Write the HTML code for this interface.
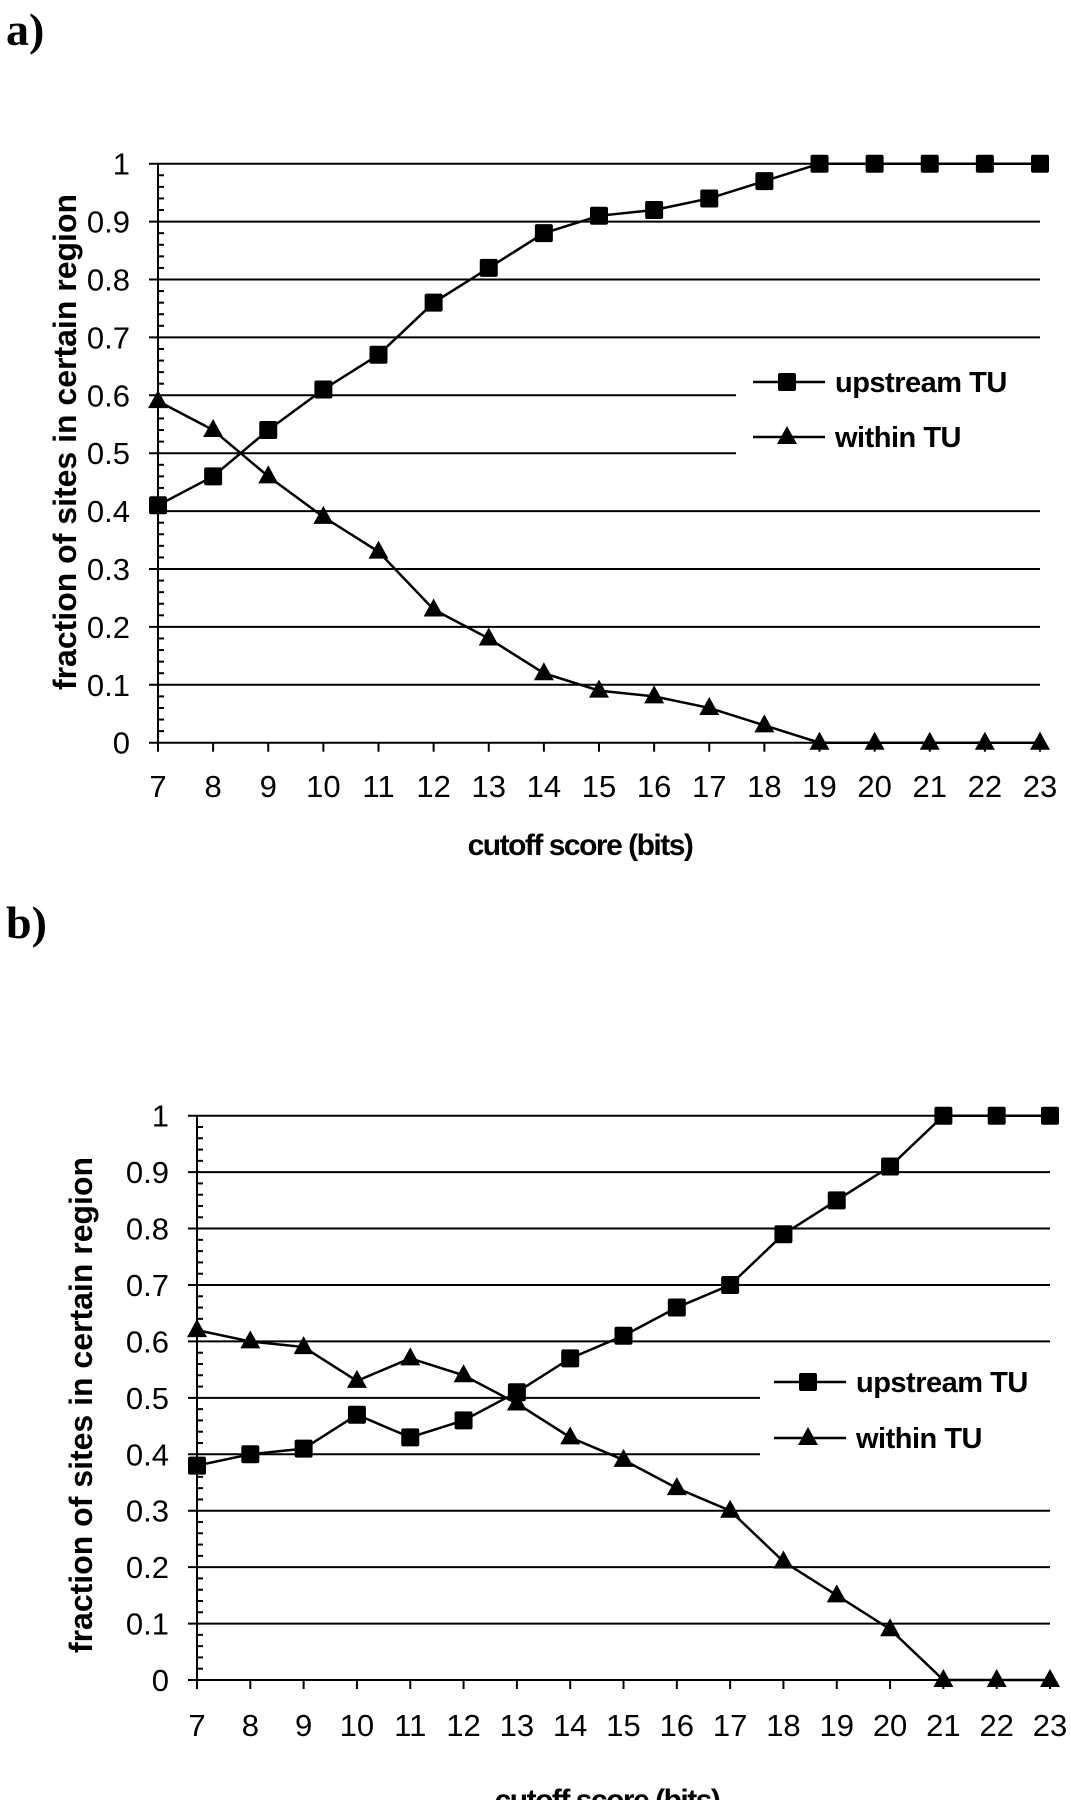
<!DOCTYPE html>
<html><head><meta charset="utf-8"><style>
html,body{margin:0;padding:0;background:#fff;width:1071px;height:1800px;overflow:hidden}
svg{display:block}
</style></head><body>
<svg id="fig" width="1071" height="1800" xmlns="http://www.w3.org/2000/svg" font-family="Liberation Sans, sans-serif"></svg>
<script>
const categories = [7,8,9,10,11,12,13,14,15,16,17,18,19,20,21,22,23];
const yTicks = [0,0.1,0.2,0.3,0.4,0.5,0.6,0.7,0.8,0.9,1];
const yTickLabels = ["0","0.1","0.2","0.3","0.4","0.5","0.6","0.7","0.8","0.9","1"];
const aUpstream = [0.41,0.46,0.54,0.61,0.67,0.76,0.82,0.88,0.91,0.92,0.94,0.97,1,1,1,1,1];
const aWithin = [0.59,0.54,0.46,0.39,0.33,0.23,0.18,0.12,0.09,0.08,0.06,0.03,0,0,0,0,0];
const bUpstream = [0.38,0.40,0.41,0.47,0.43,0.46,0.51,0.57,0.61,0.66,0.70,0.79,0.85,0.91,1,1,1];
const bWithin = [0.62,0.60,0.59,0.53,0.57,0.54,0.49,0.43,0.39,0.34,0.30,0.21,0.15,0.09,0,0,0];
const seriesNames = ["upstream TU","within TU"];

const svg = document.getElementById('fig');
const NS = 'http://www.w3.org/2000/svg';
function mk(tag, attrs, parent){
  const e = document.createElementNS(NS, tag);
  for (const k in attrs) e.setAttribute(k, attrs[k]);
  (parent||svg).appendChild(e);
  return e;
}

function drawChart(cfg){
  const g = mk('g', {});
  
  
  const xS = v => cfg.x0 + (v - categories[0]) * (cfg.x1 - cfg.x0) / (categories[categories.length-1] - categories[0]);
  const yS = v => cfg.y0 + (cfg.y1 - cfg.y0) * v;
  const pl = mk('text', {x:6, y:cfg.labelY, 'font-family':'Liberation Serif, serif', 'font-weight':'bold', 'font-size':46}, g);
  pl.textContent = cfg.label;
  
  
  yTicks.forEach((t,i) => {
    const short = cfg.shortTicks.includes(t);
    const ln = mk('line', {x1:cfg.x0-9, x2: short ? cfg.legendCut : cfg.x1, y1:yS(t), y2:yS(t), stroke:'#000', 'stroke-width':2}, g);
    
    
    const lb = mk('text', {x:cfg.x0-28, y:yS(t)+11, 'text-anchor':'end', 'font-size':31}, g);
    lb.textContent = yTickLabels[i];
    
    
  });
  for (let k=0;k<50;k++){
    if (k%5===0) continue;
    const v = k/50;
    const mt = mk('line', {x1:cfg.x0, x2:cfg.x0+6, y1:yS(v), y2:yS(v), stroke:'#000', 'stroke-width':2}, g);
    
    
  }
  const ya = mk('line', {x1:cfg.x0, x2:cfg.x0, y1:yS(1), y2:yS(0)+7, stroke:'#000', 'stroke-width':2}, g);
  
  
  categories.forEach(c => {
    const tk = mk('line', {x1:xS(c), x2:xS(c), y1:yS(0), y2:yS(0)+9, stroke:'#000', 'stroke-width':2}, g);
    
    
    const lb = mk('text', {x:xS(c), y:cfg.tickLabelY, 'text-anchor':'middle', 'font-size':31}, g);
    lb.textContent = c;
    
    
  });
  const xt = mk('text', {x:cfg.xTitleX, y:cfg.xTitleY, 'text-anchor':'middle', 'font-size':30, 'font-weight':'bold', 'letter-spacing':'-1.5'}, g);
  xt.textContent = 'cutoff score (bits)';
  
  
  const yt = mk('text', {x:0, y:0, 'text-anchor':'middle', 'font-size':32, 'font-weight':'bold', transform:`translate(${cfg.yTitleX},${cfg.yTitleY}) rotate(-90)`}, g);
  yt.textContent = 'fraction of sites in certain region';
  
  
  function marker(kind, cx, cy, parent){
    let m;
    if (kind==='sq') m = mk('rect', {x:cx-9, y:cy-9, width:18, height:18, rx:2, fill:'#000'}, parent);
    else m = mk('polygon', {points:`${cx},${cy-11} ${cx+10},${cy+7} ${cx-10},${cy+7}`, fill:'#000'}, parent);
    return m;
  }
  [[cfg.up,'sq','series-upstream'],[cfg.wi,'tri','series-within']].forEach(([vals,kind,nm]) => {
    const sg = mk('g', {}, g);
    
    
    const pts = vals.map((v,i) => xS(categories[i])+','+yS(v)).join(' ');
    const pl2 = mk('polyline', {points:pts, fill:'none', stroke:'#000', 'stroke-width':2.5}, sg);
    
    
    vals.forEach((v,i) => {
      const m = marker(kind, xS(categories[i]), yS(v), sg);
      
      
    });
  });
  [['sq',cfg.legY[0],seriesNames[0]],['tri',cfg.legY[1],seriesNames[1]]].forEach(([kind,ly,name]) => {
    const lg = mk('g', {}, g);
    
    
    mk('line', {x1:cfg.legX, x2:cfg.legX+72, y1:ly, y2:ly, stroke:'#000', 'stroke-width':2.5}, lg);
    marker(kind, cfg.legX+34, ly, lg);
    const t = mk('text', {x:cfg.legX+82, y:ly+10, 'font-size':29, 'font-weight':'bold', 'letter-spacing':'-0.5'}, lg);
    t.textContent = name;
  });
}

drawChart({id:'chart-a', label:'a)', labelY:45, x0:158, x1:1040, y0:742.7, y1:163.7,
  shortTicks:[0.5,0.6], legendCut:736, tickLabelY:797, xTitleX:580, xTitleY:855,
  yTitleX:76, yTitleY:442, up:aUpstream, wi:aWithin, legX:753, legY:[382,437]});
drawChart({id:'chart-b', label:'b)', labelY:938, x0:197, x1:1050, y0:1680, y1:1115.7,
  shortTicks:[0.4,0.5], legendCut:760, tickLabelY:1736, xTitleX:607, xTitleY:1810,
  yTitleX:92, yTitleY:1405, up:bUpstream, wi:bWithin, legX:774, legY:[1382,1438]});
</script>
</body></html>
